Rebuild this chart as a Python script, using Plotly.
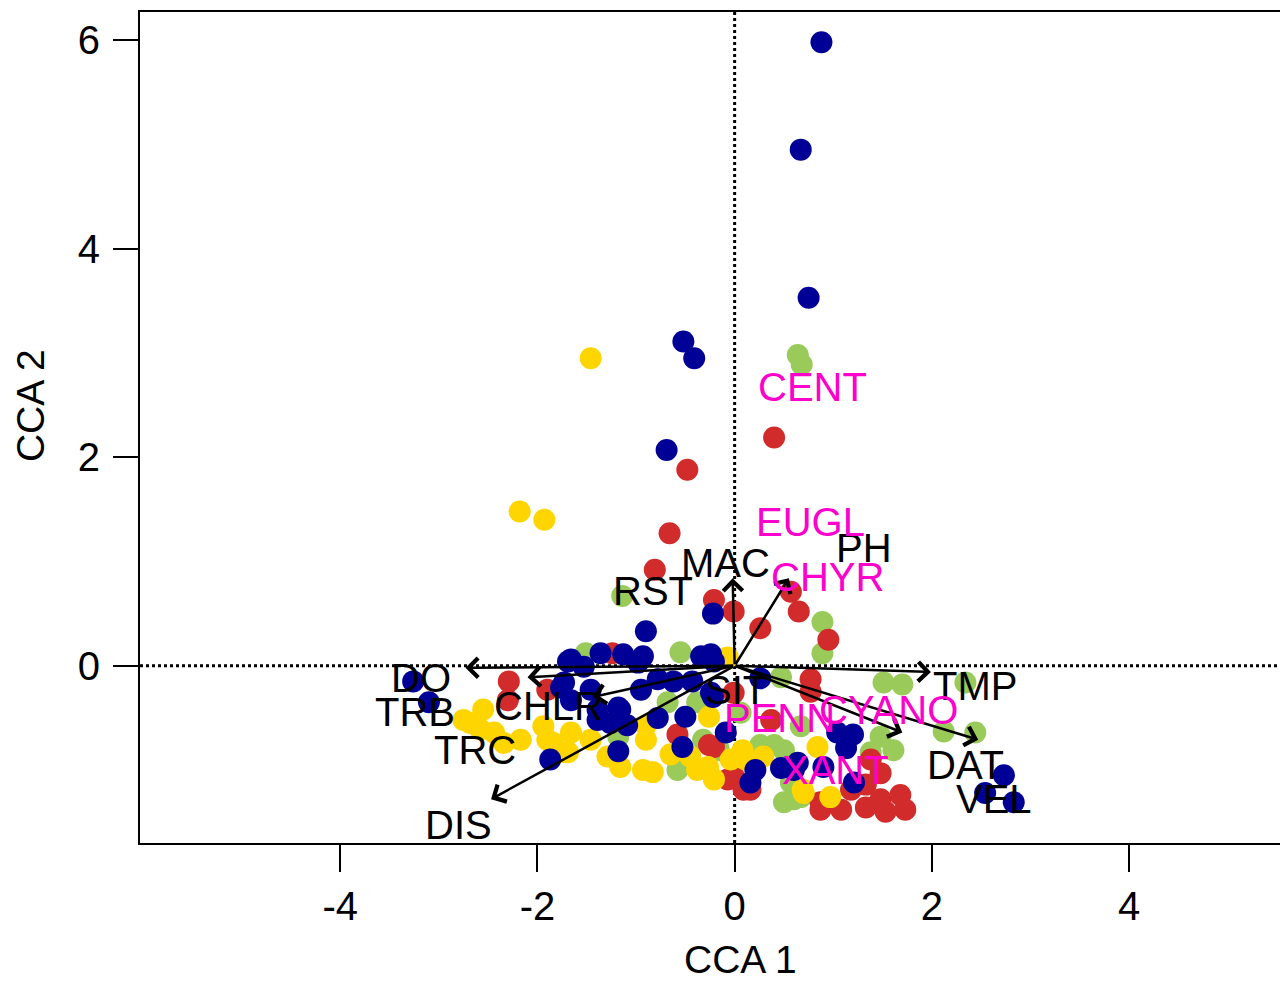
import plotly.graph_objects as go

# ---- site scores (CCA1, CCA2) by group ----
blue_x = [0.88, 0.67, 0.75, -0.52, -0.41, -0.69, -0.90, -0.22, -3.26, -3.10, 2.73, 2.54, 2.83,
          -0.24, -0.34, 0.26, -0.22, -0.09, 1.04, 1.20, 1.13, 1.21, 0.60, 0.21, 0.16, 0.47, 0.64, 0.90,
          -1.69, -1.53, -1.36, -1.13, -0.93, -0.98, -0.95, -0.78, -0.62, -0.43, -0.24, -0.78, -0.50,
          -1.18, -1.09, -1.26, -1.18, -0.53, -1.66, -1.73, -1.39, -1.87, -1.76, -1.66, -0.21, -1.39, -1.16, -1.46]
blue_y = [5.98, 4.95, 3.53, 3.11, 2.95, 2.07, 0.33, 0.50, -0.15, -0.35, -1.05, -1.22, -1.31,
          0.11, 0.09, -0.12, -0.30, -0.64, -0.64, -0.66, -0.79, -1.12, -1.00, -1.00, -1.12, -0.98, -0.93, -0.97,
          0.04, -0.01, 0.12, 0.11, 0.09, 0.03, -0.23, -0.13, -0.15, -0.15, -0.26, -0.50, -0.49,
          -0.40, -0.57, -0.55, -0.82, -0.78, -0.33, -0.16, -0.52, -0.90, -0.21, 0.06, 0.04, -0.42, -0.42, -0.23]

red_x = [0.40, -0.48, -0.66, -0.81, -0.21, -0.01, 0.26, 0.57, 0.65, 0.95, -2.29, -2.30, -1.90, -1.24,
         0.77, 0.77, 0.37, -0.58, -0.07, -0.01, 0.09, -0.26, -0.21, 0.87, 0.87, 1.48, 1.33, 1.48, 1.68,
         1.73, 1.33, 1.53, 1.18, 1.08, 1.38, 0.16, -0.01]
red_y = [2.19, 1.88, 1.27, 0.92, 0.63, 0.52, 0.36, 0.71, 0.52, 0.25, -0.15, -0.33, -0.23, 0.12,
         -0.13, -0.25, -0.52, -0.66, -1.09, -1.06, -1.19, -0.76, -0.78, -1.31, -1.38, -1.03, -1.14, -1.28, -1.24,
         -1.38, -1.36, -1.40, -1.19, -1.38, -0.90, -1.19, -0.26]

green_x = [0.64, 0.68, -1.14, 0.89, 0.89, -0.55, -1.51, 0.47, 0.06, -0.16, 0.50, 0.67, 0.57, 0.67,
           1.51, 1.70, 2.34, 2.12, 2.44, 1.48, 1.61, 1.38, 0.60, 0.50, -0.38, -0.68, -1.18, -0.58,
           -0.17, -0.32, 0.26, 0.40]
green_y = [2.98, 2.89, 0.67, 0.42, 0.12, 0.13, 0.12, -0.11, -0.45, -0.81, -0.81, -0.58, -1.12, -1.26,
           -0.16, -0.18, -0.16, -0.63, -0.64, -0.68, -0.81, -0.83, -1.28, -1.31, -0.35, -0.35, -0.68, -1.00,
           -0.78, -0.71, -0.76, -0.76]

yellow_x = [-1.46, -2.18, -1.93, -0.07, -0.26, 0.08, 0.29, 0.84, 0.69, 0.97, -0.27, -0.21, -0.90, -0.90,
            -1.29, -1.16, -0.93, -0.83, -0.65, -0.45, -0.38, -1.66, -1.46, -1.69, -2.55, -2.68, -2.58,
            -2.44, -2.17, -2.34, -2.75, -1.94, -1.84, -1.76, -1.90, -0.04, 0.11, 0.70]
yellow_y = [2.95, 1.48, 1.40, 0.08, -0.49, -0.81, -0.87, -0.78, -1.19, -1.26, -0.97, -1.09, -0.57, -0.71,
            -0.87, -0.97, -1.00, -1.02, -0.85, -0.87, -1.00, -0.64, -0.71, -0.83, -0.42, -0.55, -0.61,
            -0.64, -0.71, -0.74, -0.52, -0.58, -0.74, -0.83, -0.71, -0.90, -0.90, -1.22]

# ---- environmental vectors (arrow tips) ----
env_names = ["MAC", "PH", "DO", "TRB", "CHLR", "DIS", "TMP", "VEL", "DAT"]
env_x = [-0.02, 0.55, -2.73, -2.10, -1.44, -2.47, 1.99, 1.70, 2.47]
env_y = [0.84, 0.84, -0.02, -0.11, -0.30, -1.28, -0.06, -0.64, -0.71]

# ---- environmental labels ----
lab_names = ["MAC", "PH", "RST", "DO", "TRB", "TRC", "CHLR", "DIS", "SIT", "TMP", "DAT", "VEL"]
lab_x = [-0.09, 1.31, -0.83, -3.18, -3.24, -2.63, -1.89, -2.80, 0.01, 2.44, 2.34, 2.63]
lab_y = [0.99, 1.13, 0.72, -0.12, -0.44, -0.81, -0.39, -1.53, -0.23, -0.19, -0.95, -1.28]

# ---- species labels ----
sp_names = ["CENT", "EUGL", "CHYR", "CYANO", "PENN", "XANT"]
sp_x = [0.79, 0.77, 0.94, 1.56, 0.45, 1.02]
sp_y = [2.67, 1.38, 0.85, -0.42, -0.50, -1.00]

FONT = "Liberation Sans, Arial, Helvetica, sans-serif"

fig = go.Figure()
for xs, ys, col in [(green_x, green_y, "#9ACB5A"), (red_x, red_y, "#D22B2B"),
                    (yellow_x, yellow_y, "#FFD500"), (blue_x, blue_y, "#000096")]:
    fig.add_trace(go.Scatter(x=xs, y=ys, mode="markers",
                             marker=dict(size=22, color=col, line=dict(width=0)),
                             showlegend=False, hoverinfo="skip"))

# dotted zero lines
fig.add_hline(y=0, line=dict(color="black", width=3, dash="dot"), layer="below")
fig.add_vline(x=0, line=dict(color="black", width=3, dash="dot"), layer="below")

annotations = []
for n, x, y in zip(env_names, env_x, env_y):
    annotations.append(dict(x=x, y=y, ax=0, ay=0, xref="x", yref="y", axref="x", ayref="y",
                            text="", showarrow=True, arrowhead=4, arrowsize=1.5,
                            arrowwidth=2.5, arrowcolor="black"))
for n, x, y in zip(lab_names, lab_x, lab_y):
    annotations.append(dict(x=x, y=y, xref="x", yref="y", text=n, showarrow=False,
                            font=dict(family=FONT, size=40, color="black")))
for n, x, y in zip(sp_names, sp_x, sp_y):
    annotations.append(dict(x=x, y=y, xref="x", yref="y", text=n, showarrow=False,
                            font=dict(family=FONT, size=40, color="#FF00CC")))
# axis titles
annotations.append(dict(x=0.06, y=-0.1405, xref="x", yref="paper", text="CCA 1", showarrow=False,
                        xanchor="center", yanchor="middle",
                        font=dict(family=FONT, size=39, color="black")))
annotations.append(dict(x=-0.0965, y=2.5, xref="paper", yref="y", text="CCA 2", showarrow=False,
                        xanchor="center", yanchor="middle",
                        textangle=-90, font=dict(family=FONT, size=39, color="black")))

fig.update_layout(
    width=1280, height=981,
    margin=dict(l=140, r=0, t=12, b=138),
    paper_bgcolor="white", plot_bgcolor="white",
    annotations=annotations,
    xaxis=dict(range=[-6.03, 5.53], tickvals=[-4, -2, 0, 2, 4], ticktext=["-4", "-2", "0", "2", "4"],
               showgrid=False, zeroline=False, showline=True, linecolor="black", linewidth=2,
               mirror=True, ticks="outside", ticklen=27, tickwidth=2, tickcolor="black",
               ticklabelstandoff=0,
               tickfont=dict(family=FONT, size=40, color="black")),
    yaxis=dict(range=[-1.70, 6.27], tickvals=[0, 2, 4, 6], ticktext=["0", "2", "4", "6"],
               showgrid=False, zeroline=False, showline=True, linecolor="black", linewidth=2,
               mirror=False, ticks="outside", ticklen=25, tickwidth=2, tickcolor="black",
               ticklabelstandoff=5,
               tickfont=dict(family=FONT, size=40, color="black")),
)

fig.write_html("out.html", config={"displayModeBar": False},
               post_script="document.body.style.margin='0px';document.body.style.overflow='hidden';")
